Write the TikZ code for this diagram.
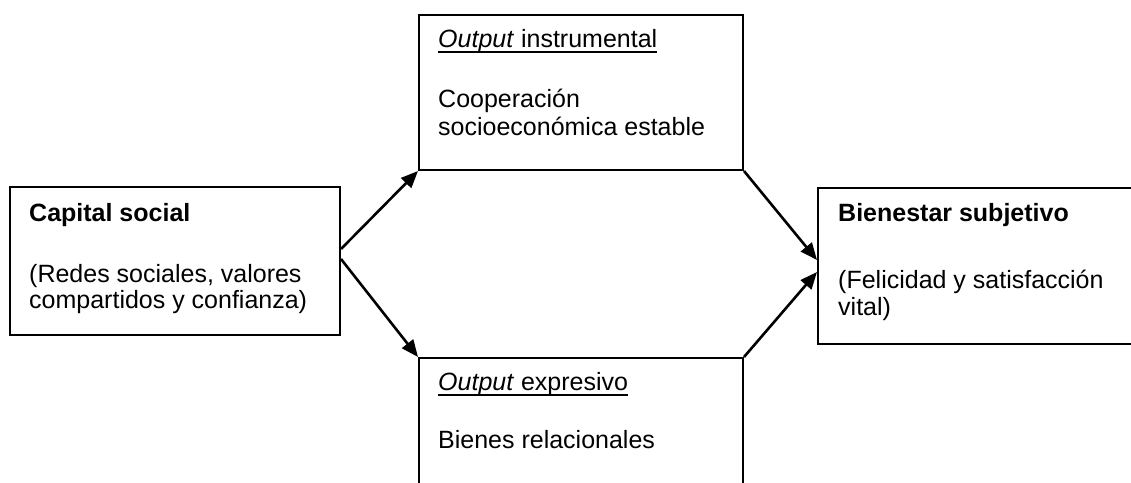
\documentclass[tikz,border=0pt]{standalone}
\usepackage{fontspec}
\setmainfont{Liberation Sans}
\usetikzlibrary{arrows.meta}
\newcommand{\myul}[1]{\leavevmode\setbox0\hbox{#1}\rlap{\copy0}\rule[-5.5pt]{\wd0}{1.8pt}}
\tikzset{
  box/.style={draw, line width=2pt, rectangle, inner sep=0pt, anchor=north west},
  txt/.style={anchor=base west, inner sep=0pt, font=\fontsize{25}{27}\selectfont},
  conn/.style={line width=2.6pt, -{Triangle[length=17pt,width=14pt]}},
}
\begin{document}
\begin{tikzpicture}[x=1pt,y=-1pt]
\useasboundingbox (0,0) rectangle (1131,482);
\clip (0,0) rectangle (1131,482);
% boxes
\node[box, minimum width=330pt, minimum height=148pt] (cap) at (9,186) {};
\node[box, minimum width=324pt, minimum height=155pt] (ins) at (418,14) {};
\node[box, minimum width=324pt, minimum height=160pt] (exp) at (418,357) {};
\node[box, minimum width=340pt, minimum height=156pt] (bie) at (817,187) {};
% texts
\node[txt] (capT) at (29,221) {\bfseries Capital social};
\node[txt] (capA) at (29,282) {(Redes sociales, valores};
\node[txt] (capB) at (29,308) {compartidos y confianza)};
\node[txt] (insT) at (438,47) {\myul{\itshape Output\/\upshape\ instrumental}};
\node[txt] (insA) at (438,107) {Cooperación};
\node[txt] (insB) at (438,135) {socioeconómica estable};
\node[txt] (expT) at (438,390) {\myul{\itshape Output\/\upshape\ expresivo}};
\node[txt] (expA) at (438,448) {Bienes relacionales};
\node[txt] (bieT) at (838,221) {\bfseries Bienestar subjetivo};
\node[txt] (bieA) at (838,288) {(Felicidad y satisfacción};
\node[txt] (bieB) at (838,315) {vital)};
% connectors
\draw[conn] ([yshift=12pt]cap.east) -- (ins.south west);
\draw[conn] ([yshift=2pt]cap.east) -- (exp.north west);
\draw[conn] (ins.south east) -- ([yshift=6pt]bie.west);
\draw[conn] (exp.north east) -- ([yshift=-6pt]bie.west);
\end{tikzpicture}
\end{document}
